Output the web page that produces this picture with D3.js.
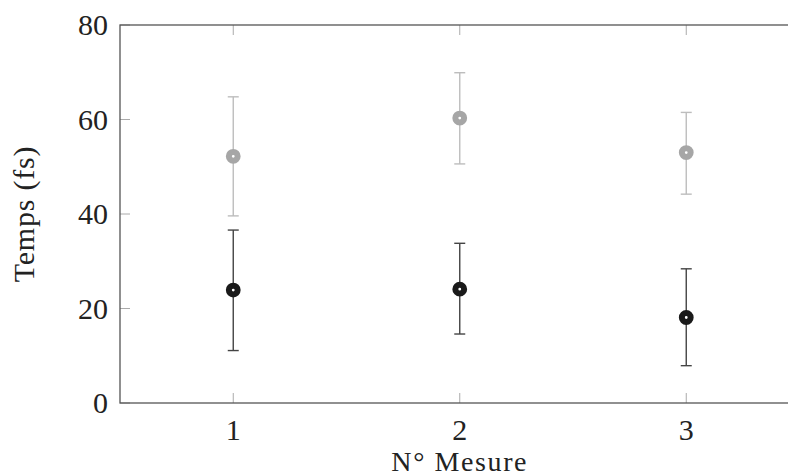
<!DOCTYPE html>
<html>
<head>
<meta charset="utf-8">
<script src="https://cdn.jsdelivr.net/npm/d3@7"></script>
<style>
  html, body { margin: 0; padding: 0; background: #fff; }
  svg { display: block; }
</style>
</head>
<body>
<svg id="chart" width="788" height="476"></svg>
<script>
// ---- data ----
const categories = [1, 2, 3];
const yTicks = [0, 20, 40, 60, 80];
const grayMean = [52.2, 60.3, 53.0];
const grayLow  = [39.6, 50.6, 44.2];
const grayHigh = [64.8, 69.9, 61.5];
const blackMean = [23.9, 24.1, 18.1];
const blackLow  = [11.1, 14.6, 7.9];
const blackHigh = [36.6, 33.8, 28.4];
const xLabel = "N° Mesure";
const yLabel = "Temps (fs)";

// ---- layout ----
const svg = d3.select("#chart");
const FONT = "'Liberation Serif', 'Times New Roman', Times, serif";
const mLeft = 120, mTop = 25, mBottom = 403, mRight = 799.5;

const x = d3.scaleLinear().domain([0.5, 3.5]).range([mLeft, mRight]);
const y = d3.scaleLinear().domain([0, 80]).range([mBottom, mTop]);

const axisColor = "#555";
const tickColor = "#aaa";

// ticks (inward) - bottom and top, left and right
const tickLen = 10;
svg.append("g").selectAll("line").data(categories).join("line")
  .attr("x1", d => x(d)).attr("x2", d => x(d))
  .attr("y1", mBottom).attr("y2", mBottom - tickLen)
  .attr("stroke", tickColor).attr("stroke-width", 1);
svg.append("g").selectAll("line").data(categories).join("line")
  .attr("x1", d => x(d)).attr("x2", d => x(d))
  .attr("y1", mTop).attr("y2", mTop + tickLen)
  .attr("stroke", tickColor).attr("stroke-width", 1);
svg.append("g").selectAll("line").data(yTicks).join("line")
  .attr("x1", mLeft).attr("x2", mLeft + tickLen)
  .attr("y1", d => y(d)).attr("y2", d => y(d))
  .attr("stroke", tickColor).attr("stroke-width", 1);
svg.append("g").selectAll("line").data(yTicks).join("line")
  .attr("x1", mRight).attr("x2", mRight - tickLen)
  .attr("y1", d => y(d)).attr("y2", d => y(d))
  .attr("stroke", tickColor).attr("stroke-width", 1);

// frame
svg.append("rect")
  .attr("x", mLeft).attr("y", mTop)
  .attr("width", mRight - mLeft).attr("height", mBottom - mTop)
  .attr("fill", "none").attr("stroke", axisColor).attr("stroke-width", 1.3);

// tick labels
svg.append("g").selectAll("text").data(yTicks).join("text")
  .attr("x", mLeft - 12).attr("y", d => y(d) + 10)
  .attr("text-anchor", "end")
  .attr("font-family", FONT)
  .attr("font-size", 30)
  .attr("fill", "#222")
  .text(d => d);
svg.append("g").selectAll("text").data(categories).join("text")
  .attr("x", d => x(d)).attr("y", mBottom + 37)
  .attr("text-anchor", "middle")
  .attr("font-family", FONT)
  .attr("font-size", 30)
  .attr("fill", "#222")
  .text(d => d);

// axis titles
svg.append("text")
  .attr("x", x(2)).attr("y", 471)
  .attr("text-anchor", "middle")
  .attr("font-family", FONT)
  .attr("font-size", 28)
  .attr("letter-spacing", 1.6)
  .attr("fill", "#222")
  .text(xLabel);
svg.append("text")
  .attr("transform", `translate(34, ${(mTop + mBottom) / 2}) rotate(-90)`)
  .attr("text-anchor", "middle")
  .attr("font-family", FONT)
  .attr("font-size", 30)
  .attr("letter-spacing", 0.8)
  .attr("fill", "#222")
  .text(yLabel);

// series
function drawSeries(mean, low, high, barColor, markColor) {
  const g = svg.append("g");
  const data = categories.map((c, i) => ({ c, m: mean[i], lo: low[i], hi: high[i] }));
  const capW = 5.5;
  g.append("g").selectAll("line").data(data).join("line")
    .attr("x1", d => x(d.c)).attr("x2", d => x(d.c))
    .attr("y1", d => y(d.lo)).attr("y2", d => y(d.hi))
    .attr("stroke", barColor).attr("stroke-width", 1.4);
  g.append("g").selectAll("line").data(data).join("line")
    .attr("x1", d => x(d.c) - capW).attr("x2", d => x(d.c) + capW)
    .attr("y1", d => y(d.hi)).attr("y2", d => y(d.hi))
    .attr("stroke", barColor).attr("stroke-width", 1.4);
  g.append("g").selectAll("line").data(data).join("line")
    .attr("x1", d => x(d.c) - capW).attr("x2", d => x(d.c) + capW)
    .attr("y1", d => y(d.lo)).attr("y2", d => y(d.lo))
    .attr("stroke", barColor).attr("stroke-width", 1.4);
  g.append("g").selectAll("circle").data(data).join("circle")
    .attr("cx", d => x(d.c)).attr("cy", d => y(d.m))
    .attr("r", 4.4)
    .attr("fill", "#fff")
    .attr("stroke", markColor).attr("stroke-width", 6);
}
drawSeries(grayMean, grayLow, grayHigh, "#bdbdbd", "#a6a6a6");
drawSeries(blackMean, blackLow, blackHigh, "#444", "#1a1a1a");
</script>
</body>
</html>
